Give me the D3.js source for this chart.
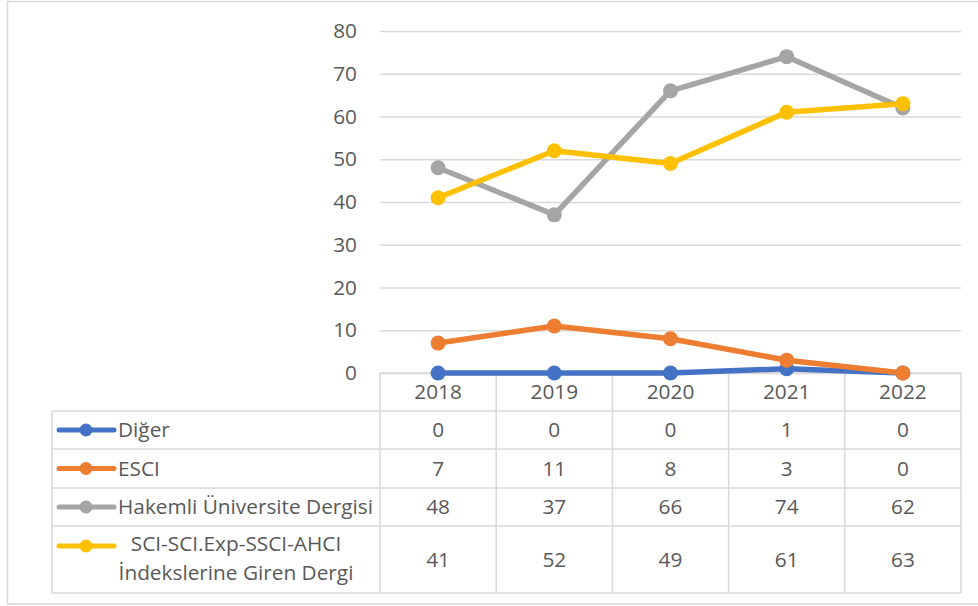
<!DOCTYPE html>
<html>
<head>
<meta charset="utf-8">
<script src="https://cdn.jsdelivr.net/npm/d3@7"></script>
<style>
  body { margin: 0; background: #fff; }
  text { font-family: "Open Sans", sans-serif; fill: #595959; }
</style>
</head>
<body>
<script>
const width = 978;
const height = 606;

// data
const years = ["2018", "2019", "2020", "2021", "2022"];
const seriesNames = ["Diğer", "ESCI", "Hakemli Üniversite Dergisi", "SCI-SCI.Exp-SSCI-AHCI İndekslerine Giren Dergi"];
const diger = [0, 0, 0, 1, 0];
const esci = [7, 11, 8, 3, 0];
const hakemli = [48, 37, 66, 74, 62];
const sci = [41, 52, 49, 61, 63];
const yTicks = [0, 10, 20, 30, 40, 50, 60, 70, 80];
const colors = ["#4472C4", "#ED7D31", "#A5A5A5", "#FFC000"];

const series = [diger, esci, hakemli, sci].map((v, i) => ({name: seriesNames[i], values: v, color: colors[i]}));

const plotLeft = 380, plotRight = 961, plotTop = 31, plotBottom = 373;
const fontSize = 20.8;

const svg = d3.select('body')
  .append('svg')
  .attr('width', width)
  .attr('height', height);

// outer chart frame
svg.append('rect')
  .attr('x', 7.5).attr('y', 1.5)
  .attr('width', 975).attr('height', 602.5)
  .attr('fill', 'none')
  .attr('stroke', '#D9D9D9')
  .attr('stroke-width', 1.5);

const x = d3.scaleBand().domain(years).range([plotLeft, plotRight]);
const y = d3.scaleLinear().domain([0, 80]).range([plotBottom, plotTop]);

// gridlines + y labels
const yAxis = svg.append('g')
  .attr('transform', `translate(${plotLeft},0)`)
  .call(d3.axisLeft(y).tickValues(yTicks).tickSize(-(plotRight - plotLeft)).tickPadding(23));
yAxis.select('.domain').remove();
yAxis.selectAll('.tick line').attr('stroke', '#D9D9D9').attr('stroke-width', 1.3);
yAxis.selectAll('.tick text')
  .style('font-family', '"Open Sans", sans-serif')
  .style('font-size', fontSize + 'px')
  .attr('fill', '#595959');

// data table
const rowEdges = [411, 449, 488, 526, 593];
const tableLeft = 52;
const grid = svg.append('g').attr('stroke', '#D9D9D9').attr('stroke-width', 1.5);
// header-row top (axis line)
grid.append('line').attr('x1', plotLeft).attr('x2', plotRight).attr('y1', plotBottom).attr('y2', plotBottom);
rowEdges.forEach(e => {
  grid.append('line').attr('x1', tableLeft).attr('x2', plotRight).attr('y1', e).attr('y2', e);
});
grid.append('line').attr('x1', tableLeft).attr('x2', tableLeft).attr('y1', rowEdges[0]).attr('y2', rowEdges[4]);
years.forEach(yr => {
  grid.append('line').attr('x1', x(yr)).attr('x2', x(yr)).attr('y1', plotBottom).attr('y2', rowEdges[4]);
});
grid.append('line').attr('x1', plotRight).attr('x2', plotRight).attr('y1', plotBottom).attr('y2', rowEdges[4]);

// year labels
svg.selectAll('.year')
  .data(years)
  .enter().append('text')
  .attr('class', 'year')
  .attr('x', d => x(d) + x.bandwidth() / 2)
  .attr('y', (plotBottom + rowEdges[0]) / 2)
  .attr('dy', '0.35em')
  .attr('text-anchor', 'middle')
  .style('font-size', fontSize + 'px')
  .text(d => d);

// table rows
series.forEach((s, i) => {
  const mid = (rowEdges[i] + rowEdges[i + 1]) / 2;
  const keyY = i < 3 ? mid : rowEdges[i] + 20;
  svg.append('line')
    .attr('x1', 59).attr('x2', 114)
    .attr('y1', keyY).attr('y2', keyY)
    .attr('stroke', s.color).attr('stroke-width', 5).attr('stroke-linecap', 'round');
  svg.append('circle')
    .attr('cx', 86).attr('cy', keyY).attr('r', 6.5)
    .attr('fill', s.color);
  if (i < 3) {
    svg.append('text')
      .attr('x', 118).attr('y', mid).attr('dy', '0.35em')
      .style('font-size', fontSize + 'px')
      .text(s.name);
  } else {
    const t = svg.append('text')
      .attr('x', 236).attr('y', mid)
      .attr('text-anchor', 'middle')
      .style('font-size', fontSize + 'px');
    t.append('tspan').attr('x', 236).attr('y', 551).text('SCI-SCI.Exp-SSCI-AHCI');
    t.append('tspan').attr('x', 236).attr('y', 580).text('İndekslerine Giren Dergi');
  }
  svg.selectAll('.val' + i)
    .data(s.values)
    .enter().append('text')
    .attr('x', (d, j) => x(years[j]) + x.bandwidth() / 2)
    .attr('y', mid).attr('dy', '0.35em')
    .attr('text-anchor', 'middle')
    .style('font-size', fontSize + 'px')
    .text(d => d);
});

// lines and markers
const line = d3.line()
  .x((d, j) => x(years[j]) + x.bandwidth() / 2)
  .y(d => y(d));

series.forEach(s => {
  const g = svg.append('g');
  g.append('path')
    .datum(s.values)
    .attr('d', line)
    .attr('fill', 'none')
    .attr('stroke', s.color)
    .attr('stroke-width', 5.5)
    .attr('stroke-linejoin', 'round');
  g.selectAll('circle')
    .data(s.values)
    .enter().append('circle')
    .attr('cx', (d, j) => x(years[j]) + x.bandwidth() / 2)
    .attr('cy', d => y(d))
    .attr('r', 7.5)
    .attr('fill', s.color);
});
</script>
</body>
</html>
